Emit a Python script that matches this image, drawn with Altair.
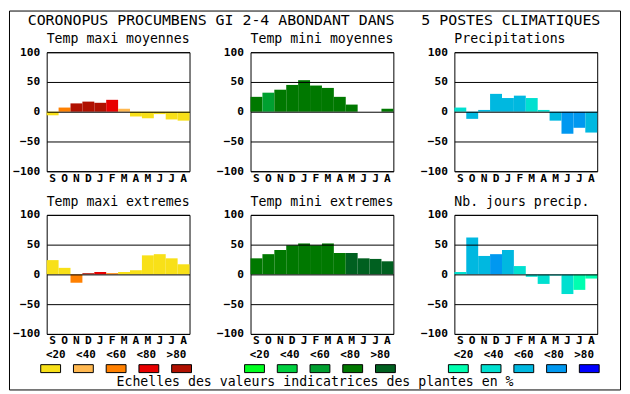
import json
import altair as alt
import pandas as pd

HEADER = "CORONOPUS PROCUMBENS GI 2-4 ABONDANT DANS\u00a0\u00a0 5 POSTES CLIMATIQUES"
FOOTER = "Echelles des valeurs indicatrices des plantes en %"
MONTHS = ["S", "O", "N", "D", "J", "F", "M", "A", "M", "J", "J", "A"]
CLASSES = ["<20", "<40", "<60", "<80", ">80"]
Y_TICKS = [-100, -50, 0, 50, 100]

REDS = ["#f8e018", "#ffb850", "#ff8000", "#e80000", "#b01000"]
GREENS = ["#00ff20", "#00d040", "#00a030", "#007800", "#006020"]
BLUES = ["#00ffb0", "#00e0d0", "#00b8e0", "#0098f0", "#0000ff"]

TITLES = ["Temp maxi moyennes", "Temp mini moyennes", "Precipitations",
          "Temp maxi extremes", "Temp mini extremes", "Nb. jours precip."]

TMAX_MOY = [-6, 7, 14, 17, 15, 20, 5, -8, -11, -4, -13, -15]
TMAX_MOY_CLS = [0, 2, 4, 4, 4, 3, 1, 0, 0, 0, 0, 0]
TMIN_MOY = [25, 32, 37, 45, 53, 44, 40, 25, 12, 0, 0, 5]
TMIN_MOY_CLS = [3, 2, 3, 3, 3, 3, 3, 3, 3, 3, 3, 3]
PRECIP = [7, -12, 3, 30, 23, 27, 23, 3, -15, -37, -27, -35]
PRECIP_CLS = [1, 2, 2, 2, 2, 2, 1, 1, 2, 3, 3, 2]
TMAX_EXT = [24, 11, -14, 2, 4, 2, 4, 7, 32, 34, 27, 17]
TMAX_EXT_CLS = [0, 0, 2, 4, 3, 2, 0, 0, 0, 0, 0, 0]
TMIN_EXT = [27, 34, 41, 49, 52, 49, 52, 36, 36, 27, 26, 22]
TMIN_EXT_CLS = [3, 3, 3, 3, 3, 3, 3, 3, 4, 4, 4, 4]
NJOURS = [4, 62, 31, 34, 41, 14, -4, -16, -2, -33, -26, -7]
NJOURS_CLS = [1, 2, 2, 3, 2, 1, 1, 1, 1, 1, 0, 0]

MONO = "DejaVu Sans Mono"
W, H = 144, 120
LABEL_EXPR = json.dumps(MONTHS) + "[datum.value]"


def text_layer(txt, size, x, y, align="center", baseline="middle"):
    return alt.Chart(pd.DataFrame({"t": [txt]})).mark_text(
        font=MONO, fontSize=size, color="black", baseline=baseline, align=align
    ).encode(x=alt.value(x), y=alt.value(y), text="t:N")


def panel(title, vals, cls, palette, legend=False, extra=()):
    df = pd.DataFrame({"idx": list(range(len(MONTHS))), "val": vals,
                       "cls": [CLASSES[c] for c in cls]})
    color_scale = alt.Scale(domain=CLASSES, range=palette)
    bars = alt.Chart(df).mark_bar().encode(
        x=alt.X("idx:O", scale=alt.Scale(paddingInner=0, paddingOuter=0),
                axis=alt.Axis(labelExpr=LABEL_EXPR, labelAngle=0, ticks=False,
                              domain=False, labelPadding=1, labelFont=MONO,
                              labelFontWeight="bold", labelFontSize=11.3,
                              labelColor="black", title=None)),
        y=alt.Y("val:Q", scale=alt.Scale(domain=[-100, 100], nice=False),
                axis=alt.Axis(values=Y_TICKS, grid=True, gridColor="black",
                              gridOpacity=1, gridWidth=1, ticks=False, domain=False,
                              labelPadding=7, labelFont=MONO, labelFontWeight="bold",
                              labelFontSize=11.3, labelColor="black",
                              labelFlush=False, labelOverlap=False, zindex=1,
                              title=None)),
        color=alt.Color("cls:N", scale=color_scale, legend=None),
    )
    layers = [bars, text_layer(title, 13.3, 0, -9, align="left", baseline="alphabetic")]
    if legend:
        leg_df = pd.DataFrame({"cls": CLASSES})
        leg_scale = alt.Scale(domain=CLASSES, range=[-6, 146], paddingInner=0.394,
                              paddingOuter=0)
        layers.append(alt.Chart(leg_df).mark_rect(stroke="black", strokeWidth=1).encode(
            x=alt.X("cls:N", scale=leg_scale, axis=None, sort=CLASSES),
            y=alt.value(151), y2=alt.value(159),
            color=alt.Color("cls:N", scale=color_scale, legend=None),
        ))
        layers.append(alt.Chart(leg_df).mark_text(
            font=MONO, fontSize=11, fontWeight="bold", color="black",
            baseline="middle").encode(
            x=alt.X("cls:N", scale=leg_scale, axis=None, sort=CLASSES),
            y=alt.value(141), text="cls:N",
        ))
    layers.extend(extra)
    return alt.layer(*layers).resolve_scale(x="independent").properties(
        width=W, height=H)


frame_rect = alt.Chart(pd.DataFrame({"k": [0]})).mark_rect(
    fillOpacity=0, stroke="black", strokeWidth=1).encode(
    x=alt.value(-37.5), x2=alt.value(578.5), y=alt.value(-41.5), y2=alt.value(340.5))

cells = [
    panel(TITLES[0], TMAX_MOY, TMAX_MOY_CLS, REDS, extra=[frame_rect]),
    panel(TITLES[1], TMIN_MOY, TMIN_MOY_CLS, GREENS,
          extra=[text_layer(HEADER, 15, 64, -32)]),
    panel(TITLES[2], PRECIP, PRECIP_CLS, BLUES),
    panel(TITLES[3], TMAX_EXT, TMAX_EXT_CLS, REDS, legend=True),
    panel(TITLES[4], TMIN_EXT, TMIN_EXT_CLS, GREENS, legend=True,
          extra=[text_layer(FOOTER, 13.3, 65, 169)]),
    panel(TITLES[5], NJOURS, NJOURS_CLS, BLUES, legend=True),
]

chart = alt.concat(*cells, columns=3, spacing={"row": 44, "column": 61.5},
                   bounds="flush").resolve_scale(color="independent").properties(
    padding=0).configure_view(stroke="black", strokeWidth=1)

chart.save("out.html", embed_options={"renderer": "svg", "actions": False})
